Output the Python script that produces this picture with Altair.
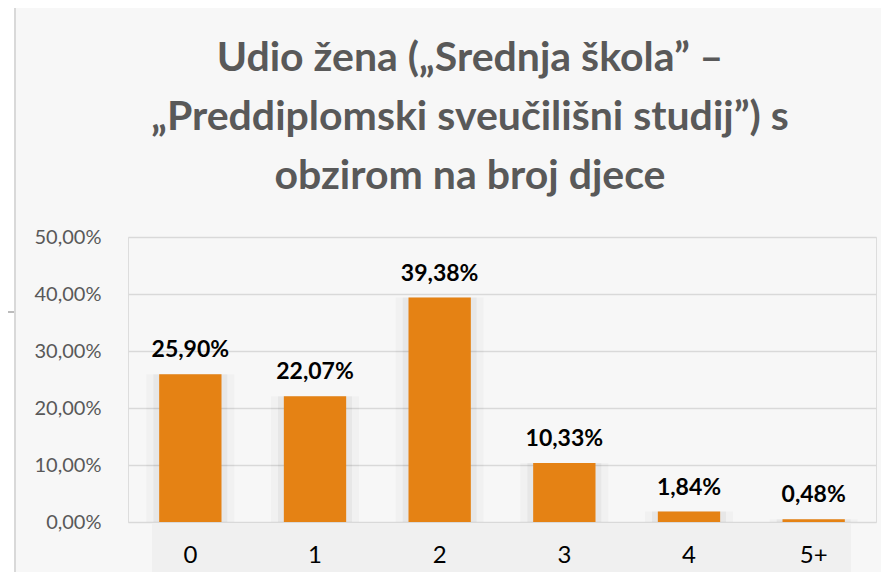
import altair as alt
import pandas as pd

categories = ["0", "1", "2", "3", "4", "5+"]
values = [0.2590, 0.2207, 0.3938, 0.1033, 0.0184, 0.0048]
labels = ["25,90%", "22,07%", "39,38%", "10,33%", "1,84%", "0,48%"]
title_lines = [
    "Udio žena („Srednja škola” –",
    "„Preddiplomski sveučilišni studij”) s",
    "obzirom na broj djece",
]

df = pd.DataFrame({"k": categories, "v": values, "lab": labels})
title_df = pd.DataFrame({"t": ["\n".join(title_lines)]})

W, H = 748, 285
FONT = "Lato"

xscale = alt.Scale(domain=categories, paddingInner=0.5, paddingOuter=0.25)
yscale = alt.Scale(domain=[0, 0.5])

# white strip left of the chart frame
strip = alt.Chart(title_df).mark_rect(fill="#ffffff").encode(
    x=alt.value(-125), x2=alt.value(-113), y=alt.value(-240), y2=alt.value(H + 80)
)
# frame borders
left_border = alt.Chart(title_df).mark_rule(color="#d9d9d9", strokeWidth=2).encode(
    x=alt.value(-113), y=alt.value(-230), y2=alt.value(H + 80)
)
top_border = alt.Chart(title_df).mark_rule(color="#d9d9d9", strokeWidth=2).encode(
    x=alt.value(-113), x2=alt.value(W + 40), y=alt.value(-230)
)
top_strip = alt.Chart(title_df).mark_rect(fill="#ffffff").encode(
    x=alt.value(-125), x2=alt.value(W + 40), y=alt.value(-240), y2=alt.value(-231)
)

# left artifact line
stub = alt.Chart(title_df).mark_rule(color="#a6a6a6", strokeWidth=1.5).encode(
    x=alt.value(-125), x2=alt.value(-114), y=alt.value(75)
)

# gray band behind category labels
band = alt.Chart(title_df).mark_rect(fill="#f0f0f0").encode(
    x=alt.value(24), x2=alt.value(723), y=alt.value(287), y2=alt.value(H + 80)
)

base = alt.Chart(df)

def xaxis():
    return alt.Axis(title=None, labelAngle=0, domain=False, ticks=False,
                    labelFontSize=24, labelColor="#000000", labelFont=FONT,
                    labelPadding=21, zindex=2)

def yaxis():
    return alt.Axis(title=None, values=[0, 0.1, 0.2, 0.3, 0.4, 0.5],
                    labelExpr="replace(format(datum.value, '.2%'), '.', ',')",
                    domain=False, ticks=False, labelFontSize=20,
                    labelColor="#595959", labelFont=FONT, labelPadding=27,
                    gridColor="#d9d9d9", gridWidth=1.5)

enc = dict(
    x=alt.X("k:N", scale=xscale, sort=categories, axis=xaxis()),
    y=alt.Y("v:Q", scale=yscale, axis=yaxis()),
)

shadow2 = base.mark_bar(color="#000000", opacity=0.025, size=88).encode(**enc)
shadow = base.mark_bar(color="#000000", opacity=0.04, size=74).encode(**enc)
bars = base.mark_bar(color="#E58214").encode(**enc)
text = base.mark_text(
    font=FONT, fontSize=23, fontWeight="bold", color="#000000",
    baseline="alphabetic", dy=-17
).encode(text="lab:N", **enc)

title = alt.Chart(title_df).mark_text(
    font=FONT, fontSize=41, fontWeight="bold", color="#595959",
    lineBreak="\n", lineHeight=59, baseline="alphabetic", align="center"
).encode(
    x=alt.value(342), y=alt.value(-166), text="t:N"
)

chart = alt.layer(strip, top_strip, left_border, top_border, stub, band,
                  shadow2, shadow, bars, text, title).properties(
    width=W, height=H,
    padding={"left": 120, "top": 229, "right": 5, "bottom": 50},
    autosize=alt.AutoSizeParams(type="none"),
).configure_view(stroke=None).configure(background="#f7f7f7").configure_axisX(
    labelFontSize=24, labelColor="#000000", labelFont=FONT, labelPadding=21,
    domain=False, ticks=False,
).configure_axisY(
    labelFontSize=20, labelColor="#595959", labelFont=FONT, labelPadding=27,
    domain=False, ticks=False, gridColor="#d9d9d9", gridWidth=1.5,
)

chart.save("out.html", embed_options={"renderer": "svg", "actions": False})
